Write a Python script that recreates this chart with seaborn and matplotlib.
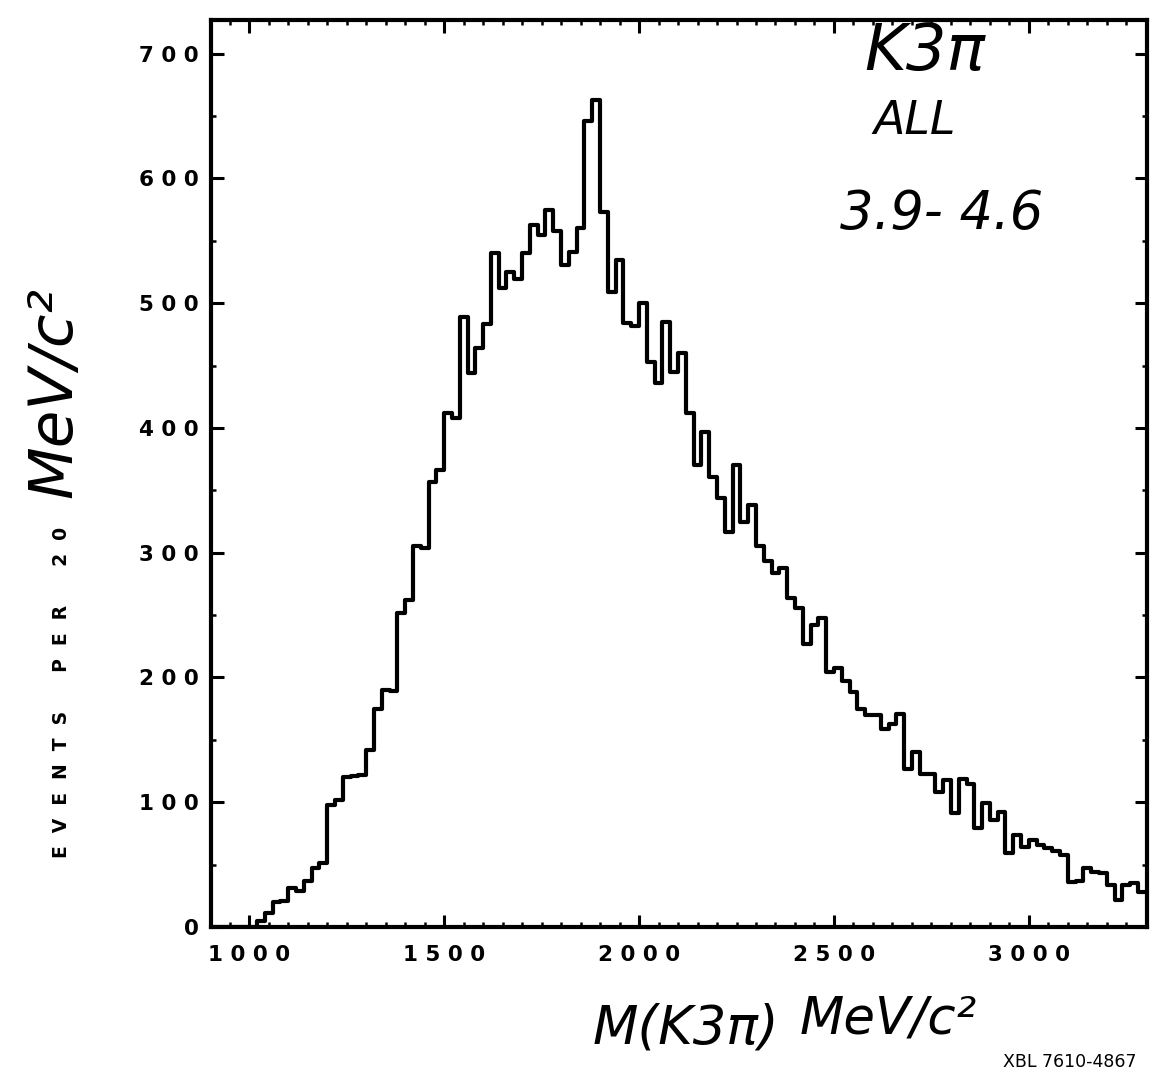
import numpy as np
import pandas as pd
import seaborn as sns
import matplotlib
matplotlib.use("Agg")
import matplotlib.pyplot as plt
from matplotlib.ticker import MultipleLocator, FixedLocator, FuncFormatter

# ---- data: events per 20 MeV/c^2 bin, M(K3pi) ----
bin_width_mev = 20
empty_bins_low = [900, 920, 940, 960, 980, 1000]
first_filled_bin = 1020
events = [
    5, 11, 20, 21, 31, 29, 37, 47, 51, 98,
    102, 120, 121, 122, 142, 175, 190, 189, 252, 262,
    305, 304, 357, 366, 412, 408, 489, 444, 464, 483,
    540, 512, 525, 519, 540, 563, 555, 575, 558, 531,
    541, 560, 646, 663, 573, 509, 535, 484, 482, 500,
    453, 436, 485, 445, 460, 412, 370, 397, 361, 344,
    317, 370, 325, 338, 305, 293, 284, 288, 264, 256,
    227, 242, 248, 204, 208, 197, 188, 175, 170, 170,
    159, 163, 171, 127, 140, 123, 123, 108, 118, 91,
    119, 115, 79, 99, 86, 92, 59, 74, 64, 70,
    66, 63, 61, 58, 36, 37, 47, 44, 43, 34,
    22, 34, 35, 28,
]
x_ticks = [1000, 1500, 2000, 2500, 3000]
y_ticks = [0, 100, 200, 300, 400, 500, 600, 700]

filled_low = [first_filled_bin + bin_width_mev * i for i in range(len(events))]
bin_low = empty_bins_low + filled_low
counts = [0] * len(empty_bins_low) + events
edges = bin_low + [bin_low[-1] + bin_width_mev]
df = pd.DataFrame({"mass": [b + bin_width_mev / 2 for b in bin_low], "n": counts})

# ---- figure ----
W, H, DPI = 1157, 1076, 100
sns.set_style("ticks")
plt.rcParams["font.family"] = ["DejaVu Sans"]
for k in ["text.color", "axes.labelcolor", "xtick.color", "ytick.color", "axes.edgecolor"]:
    plt.rcParams[k] = "black"
fig = plt.figure(figsize=(W / DPI, H / DPI), dpi=DPI)
fig.patch.set_facecolor("white")
ax = fig.add_axes([211 / W, 1 - 927 / H, (1147 - 211) / W, (927 - 20) / H])

sns.histplot(data=df, x="mass", weights="n", bins=edges, element="step",
             fill=False, color="black", linewidth=3.0, ax=ax)

ax.set_xlim(902, 3303)
ax.set_ylim(0, 727)
ax.set_xlabel("")
ax.set_ylabel("")

for s in ax.spines.values():
    s.set_visible(True)
    s.set_linewidth(3.0)
    s.set_color("black")

ax.xaxis.set_major_locator(FixedLocator(x_ticks))
ax.xaxis.set_minor_locator(MultipleLocator(50))
ax.yaxis.set_major_locator(FixedLocator(y_ticks))
ax.yaxis.set_minor_locator(MultipleLocator(50))
spaced = FuncFormatter(lambda v, p: " ".join(str(int(round(v)))))
ax.xaxis.set_major_formatter(spaced)
ax.yaxis.set_major_formatter(spaced)
ax.tick_params(which="both", direction="in", top=True, right=True, color="black",
               labelcolor="black")
ax.tick_params(which="major", length=9, width=2.2)
ax.tick_params(which="minor", length=3.5, width=1.8)
ax.tick_params(axis="x", which="major", pad=13)
ax.tick_params(axis="y", which="major", pad=9)
for lab in ax.get_xticklabels() + ax.get_yticklabels():
    lab.set_fontsize(15.5)
    lab.set_fontweight("heavy")

def ftext(x, y, s, **kw):
    fig.text(x / W, 1 - y / H, s, color="black", **kw)

# y-axis label
ftext(62, 692, "E  V  E  N  T  S      P  E  R      2  0", rotation=90,
      ha="center", va="center", fontsize=13.5, fontweight="heavy")
ftext(55, 392, "MeV/c²", rotation=90, ha="center", va="center",
      fontsize=44, fontstyle="italic")

# x-axis label
ftext(686, 1028, "M(K3π)", ha="center", va="center", fontsize=38, fontstyle="italic")
ftext(888, 1020, "MeV/c²", ha="center", va="center", fontsize=37, fontstyle="italic")

# handwritten annotation
ftext(925, 52, "K3π", ha="center", va="center", fontsize=46, fontstyle="italic")
ftext(915, 122, "ALL", ha="center", va="center", fontsize=33, fontstyle="italic")
ftext(942, 214, "3.9- 4.6", ha="center", va="center", fontsize=38, fontstyle="italic")

# catalogue number
ftext(1003, 1062, "XBL 7610-4867", ha="left", va="center", fontsize=12.5)

fig.savefig("out.png", dpi=DPI, facecolor="white")
